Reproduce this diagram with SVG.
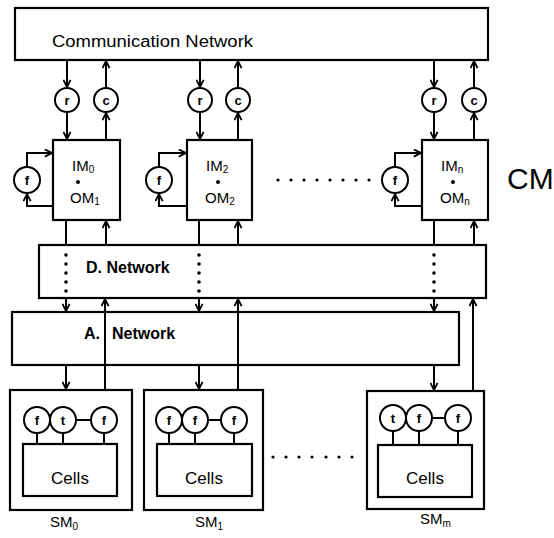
<svg xmlns="http://www.w3.org/2000/svg" width="554" height="538" viewBox="0 0 554 538">
<defs>
<marker id="ah" viewBox="0 0 10 10" refX="9" refY="5" markerWidth="9" markerHeight="9" markerUnits="userSpaceOnUse" orient="auto">
<path d="M1,1 L9,5 L1,9" fill="none" stroke="#000" stroke-width="2"/>
</marker>
<style>
.box{fill:none;stroke:#000;stroke-width:2.2}
.cir{fill:#fff;stroke:#000;stroke-width:2}
.ln{fill:none;stroke:#000;stroke-width:2}
.ar{fill:none;stroke:#000;stroke-width:2;marker-end:url(#ah)}
.t{font-family:"Liberation Sans","DejaVu Sans",sans-serif;fill:#000}
.c{font-family:"Liberation Sans","DejaVu Sans",sans-serif;font-size:13px;font-weight:bold;text-anchor:middle;fill:#000}
.dot{fill:#000}
</style>
</defs>
<rect width="554" height="538" fill="#fff"/>

<g id="comm-network">
<rect class="box" x="15" y="8" width="473" height="52"/>
<text class="t" x="52" y="47" font-size="16" textLength="201" lengthAdjust="spacingAndGlyphs">Communication  Network</text>
</g>

<g id="r0"><circle class="cir" cx="67" cy="100" r="12"/><text class="c" x="67" y="105">r</text></g>
<g id="c0"><circle class="cir" cx="106" cy="100" r="12"/><text class="c" x="106" y="105">c</text></g>
<g id="r1"><circle class="cir" cx="200" cy="100" r="12"/><text class="c" x="200" y="105">r</text></g>
<g id="c1"><circle class="cir" cx="238" cy="100" r="12"/><text class="c" x="238" y="105">c</text></g>
<g id="rn"><circle class="cir" cx="434" cy="100" r="12"/><text class="c" x="434" y="105">r</text></g>
<g id="cn"><circle class="cir" cx="474" cy="100" r="12"/><text class="c" x="474" y="105">c</text></g>

<g id="im0">
<rect class="box" x="53" y="140" width="67" height="80"/>
<text class="t" x="72" y="171" font-size="15">IM<tspan font-size="10" dy="2">0</tspan></text>
<circle class="dot" cx="78" cy="182" r="2"/>
<text class="t" x="70" y="203" font-size="15">OM<tspan font-size="10" dy="2">1</tspan></text>
</g>
<g id="im1">
<rect class="box" x="187" y="140" width="65" height="80"/>
<text class="t" x="206" y="171" font-size="15">IM<tspan font-size="10" dy="2">2</tspan></text>
<circle class="dot" cx="218" cy="182" r="2"/>
<text class="t" x="205" y="203" font-size="15">OM<tspan font-size="10" dy="2">2</tspan></text>
</g>
<g id="imn">
<rect class="box" x="422" y="140" width="66" height="80"/>
<text class="t" x="441" y="171" font-size="15">IM<tspan font-size="10" dy="2">n</tspan></text>
<circle class="dot" cx="453" cy="182" r="2"/>
<text class="t" x="440" y="203" font-size="15">OM<tspan font-size="10" dy="2">n</tspan></text>
</g>

<g id="f-im0"><circle class="cir" cx="27" cy="180" r="13"/><text class="c" x="27" y="185">f</text></g>
<g id="f-im1"><circle class="cir" cx="159" cy="180" r="13"/><text class="c" x="159" y="185">f</text></g>
<g id="f-imn"><circle class="cir" cx="395" cy="180" r="13"/><text class="c" x="395" y="185">f</text></g>

<g id="cm-label"><text class="t" x="507" y="189" font-size="30">CM</text></g>

<g id="d-network">
<rect class="box" x="39" y="245" width="447" height="53"/>
<text class="t" x="86" y="273" font-size="16" font-weight="bold">D. Network</text>
</g>

<g id="a-network">
<rect class="box" x="12" y="312" width="447" height="53"/>
<text class="t" x="84" y="339" font-size="16" font-weight="bold">A.</text>
<text class="t" x="112" y="339" font-size="16" font-weight="bold">Network</text>
</g>

<g id="sm0">
<rect class="box" x="10" y="390" width="122" height="120"/>
<rect class="box" x="23" y="444" width="94" height="52"/>
<text class="t" x="70" y="484" font-size="17" text-anchor="middle">Cells</text>
<line class="ln" x1="37" y1="433" x2="37" y2="444"/><line class="ln" x1="63" y1="433" x2="63" y2="444"/><line class="ln" x1="104" y1="433" x2="104" y2="444"/>
<line class="ln" x1="76" y1="420" x2="91" y2="420"/>
<circle class="cir" cx="37" cy="420" r="13"/><text class="c" x="37" y="425">f</text>
<circle class="cir" cx="63" cy="420" r="13"/><text class="c" x="63" y="425">t</text>
<circle class="cir" cx="104" cy="420" r="13"/><text class="c" x="104" y="425">f</text>
<text class="t" x="50" y="527" font-size="15">SM<tspan font-size="10" dy="3">0</tspan></text>
</g>
<g id="sm1">
<rect class="box" x="144" y="390" width="119" height="120"/>
<rect class="box" x="157" y="444" width="95" height="52"/>
<text class="t" x="204" y="484" font-size="17" text-anchor="middle">Cells</text>
<line class="ln" x1="169" y1="433" x2="169" y2="444"/><line class="ln" x1="195" y1="433" x2="195" y2="444"/><line class="ln" x1="234" y1="433" x2="234" y2="444"/>
<line class="ln" x1="208" y1="420" x2="221" y2="420"/>
<circle class="cir" cx="169" cy="420" r="13"/><text class="c" x="169" y="425">f</text>
<circle class="cir" cx="195" cy="420" r="13"/><text class="c" x="195" y="425">f</text>
<circle class="cir" cx="234" cy="420" r="13"/><text class="c" x="234" y="425">f</text>
<text class="t" x="195" y="527" font-size="15">SM<tspan font-size="10" dy="3">1</tspan></text>
</g>
<g id="smm">
<rect class="box" x="367" y="391" width="117" height="118"/>
<rect class="box" x="378" y="445" width="94" height="52"/>
<text class="t" x="425" y="484" font-size="17" text-anchor="middle">Cells</text>
<line class="ln" x1="393" y1="431" x2="393" y2="445"/><line class="ln" x1="419" y1="431" x2="419" y2="445"/><line class="ln" x1="458" y1="431" x2="458" y2="445"/>
<line class="ln" x1="432" y1="418" x2="445" y2="418"/>
<circle class="cir" cx="393" cy="418" r="13"/><text class="c" x="393" y="423">t</text>
<circle class="cir" cx="419" cy="418" r="13"/><text class="c" x="419" y="423">f</text>
<circle class="cir" cx="458" cy="418" r="13"/><text class="c" x="458" y="423">f</text>
<text class="t" x="420" y="524" font-size="15">SM<tspan font-size="10" dy="3">m</tspan></text>
</g>

<g id="ellipsis">
<g class="dot">
<circle cx="278" cy="180" r="1.6"/><circle cx="291" cy="180" r="1.6"/><circle cx="304" cy="180" r="1.6"/><circle cx="317" cy="180" r="1.6"/><circle cx="330" cy="180" r="1.6"/><circle cx="343" cy="180" r="1.6"/><circle cx="356" cy="180" r="1.6"/><circle cx="369" cy="180" r="1.6"/>
<circle cx="273" cy="457" r="1.6"/><circle cx="286" cy="457" r="1.6"/><circle cx="299" cy="457" r="1.6"/><circle cx="312" cy="457" r="1.6"/><circle cx="326" cy="457" r="1.6"/><circle cx="339" cy="457" r="1.6"/><circle cx="352" cy="457" r="1.6"/>
</g>
</g>

<g id="connectors">
<line class="ar" x1="67" y1="60" x2="67" y2="87"/>
<line class="ar" x1="67" y1="112" x2="67" y2="139"/>
<line class="ar" x1="106" y1="140" x2="106" y2="113"/>
<line class="ar" x1="106" y1="88" x2="106" y2="61"/>
<line class="ar" x1="200" y1="60" x2="200" y2="87"/>
<line class="ar" x1="200" y1="112" x2="200" y2="139"/>
<line class="ar" x1="238" y1="140" x2="238" y2="113"/>
<line class="ar" x1="238" y1="88" x2="238" y2="61"/>
<line class="ar" x1="434" y1="60" x2="434" y2="87"/>
<line class="ar" x1="434" y1="112" x2="434" y2="139"/>
<line class="ar" x1="474" y1="140" x2="474" y2="113"/>
<line class="ar" x1="474" y1="88" x2="474" y2="61"/>
<path class="ar" d="M27,167 L27,153 L52,153"/>
<path class="ln" d="M53,206 L27,206 L27,194"/><path class="ar" d="M27,200 L27,194"/>
<path class="ar" d="M159,167 L159,153 L186,153"/>
<path class="ln" d="M187,206 L159,206 L159,194"/><path class="ar" d="M159,200 L159,194"/>
<path class="ar" d="M395,167 L395,153 L421,153"/>
<path class="ln" d="M422,206 L395,206 L395,194"/><path class="ar" d="M395,200 L395,194"/>
<line class="ln" x1="66" y1="220" x2="66" y2="245"/>
<line class="ar" x1="106" y1="245" x2="106" y2="221"/>
<line class="ln" x1="199" y1="220" x2="199" y2="245"/>
<line class="ar" x1="238" y1="245" x2="238" y2="221"/>
<line class="ln" x1="434" y1="220" x2="434" y2="245"/>
<line class="ar" x1="474" y1="245" x2="474" y2="221"/>
<g class="dot">
<circle cx="66" cy="255" r="1.8"/><circle cx="66" cy="264" r="1.8"/><circle cx="66" cy="273" r="1.8"/><circle cx="66" cy="282" r="1.8"/><circle cx="66" cy="291" r="1.8"/>
<circle cx="199" cy="255" r="1.8"/><circle cx="199" cy="264" r="1.8"/><circle cx="199" cy="273" r="1.8"/><circle cx="199" cy="282" r="1.8"/><circle cx="199" cy="291" r="1.8"/>
<circle cx="434" cy="255" r="1.8"/><circle cx="434" cy="264" r="1.8"/><circle cx="434" cy="273" r="1.8"/><circle cx="434" cy="282" r="1.8"/><circle cx="434" cy="291" r="1.8"/>
</g>
<line class="ar" x1="66" y1="298" x2="66" y2="311"/>
<line class="ar" x1="199" y1="298" x2="199" y2="311"/>
<line class="ar" x1="434" y1="298" x2="434" y2="311"/>
<line class="ar" x1="105" y1="390" x2="105" y2="299"/>
<line class="ar" x1="238" y1="390" x2="238" y2="299"/>
<line class="ar" x1="473" y1="391" x2="473" y2="299"/>
<line class="ar" x1="66" y1="365" x2="66" y2="389"/>
<line class="ar" x1="199" y1="365" x2="199" y2="389"/>
<line class="ar" x1="434" y1="365" x2="434" y2="390"/>
</g>
</svg>
